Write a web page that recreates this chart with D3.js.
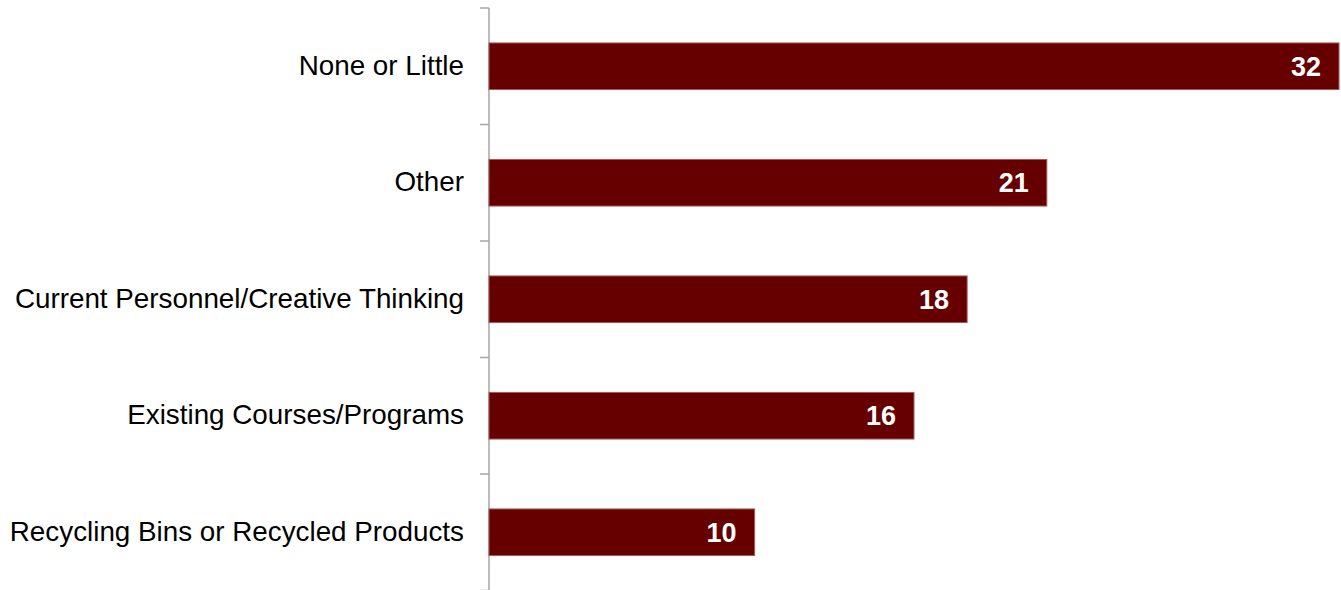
<!DOCTYPE html>
<html>
<head>
<meta charset="utf-8">
<script src="https://cdn.jsdelivr.net/npm/d3@7"></script>
<style>
  body { margin: 0; background: #fff; }
  svg { display: block; }
</style>
</head>
<body>
<script>
// chart data
var categories = ["None or Little", "Other", "Current Personnel/Creative Thinking", "Existing Courses/Programs", "Recycling Bins or Recycled Products"];
var values = [32, 21, 18, 16, 10];

var width = 1341;
var height = 590;

var svg = d3.select("body").append("svg")
    .attr("width", width)
    .attr("height", height);

var x = d3.scaleLinear()
    .domain([0, 32])
    .range([489, 1339]);

var y = d3.scaleBand()
    .domain(categories)
    .range([8, 590.5])
    .paddingInner(0.6)
    .paddingOuter(0.3);

// band edges for ticks
var tickY = d3.range(categories.length + 1).map(function (i) { return 8 + i * (582.5 / categories.length); });

// axis line
svg.append("line")
    .attr("x1", 489).attr("x2", 489)
    .attr("y1", 8).attr("y2", 590)
    .attr("stroke", "#a6a6a6")
    .attr("stroke-width", 1.5);

svg.selectAll(".tick")
    .data(tickY)
    .enter()
    .append("line")
    .attr("class", "tick")
    .attr("x1", 480).attr("x2", 489)
    .attr("y1", function (d) { return d; })
    .attr("y2", function (d) { return d; })
    .attr("stroke", "#a6a6a6")
    .attr("stroke-width", 1.5);

// bars
var data = categories.map(function (c, i) { return {cat: c, val: values[i]}; });

svg.selectAll(".bar")
    .data(data)
    .enter()
    .append("rect")
    .attr("class", "bar")
    .attr("x", x(0))
    .attr("y", function (d) { return y(d.cat); })
    .attr("width", function (d) { return x(d.val) - x(0); })
    .attr("height", y.bandwidth())
    .attr("fill", "#660000")
    .attr("stroke", "#a45a5a")
    .attr("stroke-width", 1);

// value labels
svg.selectAll(".val")
    .data(data)
    .enter()
    .append("text")
    .attr("class", "val")
    .attr("x", function (d) { return x(d.val) - 18; })
    .attr("y", function (d) { return y(d.cat) + y.bandwidth() / 2; })
    .attr("dy", "0.35em")
    .attr("text-anchor", "end")
    .attr("fill", "#fff")
    .attr("font-family", "Liberation Sans, Arial, sans-serif")
    .attr("font-weight", "bold")
    .attr("font-size", "27px")
    .text(function (d) { return d.val; });

// category labels
svg.selectAll(".cat")
    .data(data)
    .enter()
    .append("text")
    .attr("class", "cat")
    .attr("x", 464)
    .attr("y", function (d) { return y(d.cat) + y.bandwidth() / 2; })
    .attr("dy", "0.3em")
    .attr("text-anchor", "end")
    .attr("fill", "#000")
    .attr("font-family", "Liberation Sans, Arial, sans-serif")
    .attr("font-size", "27.8px")
    .text(function (d) { return d.cat; });
</script>
</body>
</html>
